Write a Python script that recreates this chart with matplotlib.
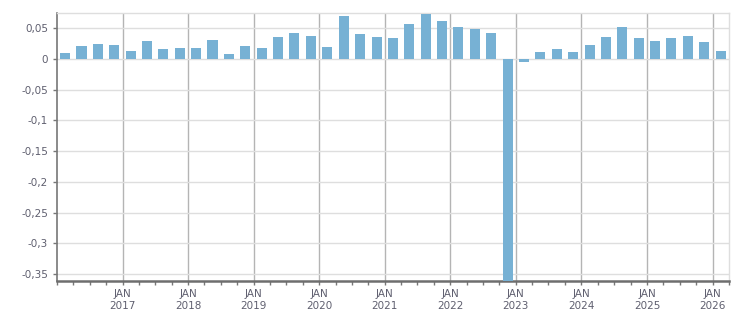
import datetime as dt
import matplotlib
matplotlib.use("Agg")
import matplotlib.pyplot as plt
import matplotlib.dates as mdates
from matplotlib.ticker import FuncFormatter, FixedLocator

# quarterly values, Q1 2016 .. Q1 2026
quarters = [(y, q) for y in range(2016, 2027) for q in range(1, 5)][:41]
values = [0.0103, 0.0212, 0.0245, 0.0228, 0.0130, 0.0293, 0.0163, 0.0179,
          0.0179, 0.0310, 0.0082, 0.0212, 0.0179, 0.0359, 0.0424, 0.0375,
          0.0196, 0.0701, 0.0408, 0.0359, 0.0342, 0.0571, 0.0734, 0.0620,
          0.0522, 0.0489, 0.0424, -0.3620, -0.0049, 0.0114, 0.0163, 0.0114,
          0.0228, 0.0359, 0.0522, 0.0342, 0.0293, 0.0342, 0.0375, 0.0277,
          0.0130]
yticks = [0.05, 0, -0.05, -0.1, -0.15, -0.2, -0.25, -0.3, -0.35]
year_labels = list(range(2017, 2027))


def q_start(y, q):
    return dt.date(y, 3 * (q - 1) + 1, 1)


def q_end(y, q):
    return q_start(y + 1, 1) if q == 4 else q_start(y, q + 1)


starts = [mdates.date2num(q_start(y, q)) for y, q in quarters]
ends = [mdates.date2num(q_end(y, q)) for y, q in quarters]
centers = [(s + e) / 2 for s, e in zip(starts, ends)]

fig = plt.figure(figsize=(7.51, 3.13), dpi=100)
ax = fig.add_axes([57 / 751, 1 - 280.7 / 313, (728.7 - 57) / 751, (280.7 - 13.3) / 313])

ax.bar(centers, values, width=56, color="#77b1d4", zorder=3)

ax.set_xlim(mdates.date2num(dt.date(2016, 1, 1)), mdates.date2num(dt.date(2026, 4, 1)))
ax.set_ylim(-0.3605, 0.0742)

# y axis
ax.yaxis.set_major_locator(FixedLocator(yticks))
ax.yaxis.set_major_formatter(FuncFormatter(lambda v, p: ("%g" % round(v, 2)).replace(".", ",")))
ax.grid(axis="y", color="#dedede", linewidth=1.0, zorder=0)

# x axis
major = [mdates.date2num(dt.date(y, 1, 1)) for y in year_labels]
minor = [mdates.date2num(q_start(y, q)) for y in range(2016, 2027) for q in range(1, 5)]
ax.xaxis.set_major_locator(FixedLocator(major))
ax.xaxis.set_minor_locator(FixedLocator(minor))
ax.set_xticklabels(["JAN\n%d" % y for y in year_labels])
ax.grid(axis="x", which="major", color="#b4b4b4", linewidth=1.0, zorder=1)

ax.tick_params(axis="both", which="major", labelsize=7.5, labelcolor="#5f5f6f",
               color="#777777", length=3, width=1)
ax.tick_params(axis="x", which="minor", color="#777777", length=3, width=1)
ax.tick_params(axis="x", which="major", pad=3)

for s in ["top", "right"]:
    ax.spines[s].set_color("#dedede")
    ax.spines[s].set_linewidth(1.0)
ax.spines["left"].set_color("#777777")
ax.spines["left"].set_linewidth(1.2)
ax.spines["bottom"].set_color("#6e6e6e")
ax.spines["bottom"].set_linewidth(1.8)

fig.savefig("out.png", dpi=100)
